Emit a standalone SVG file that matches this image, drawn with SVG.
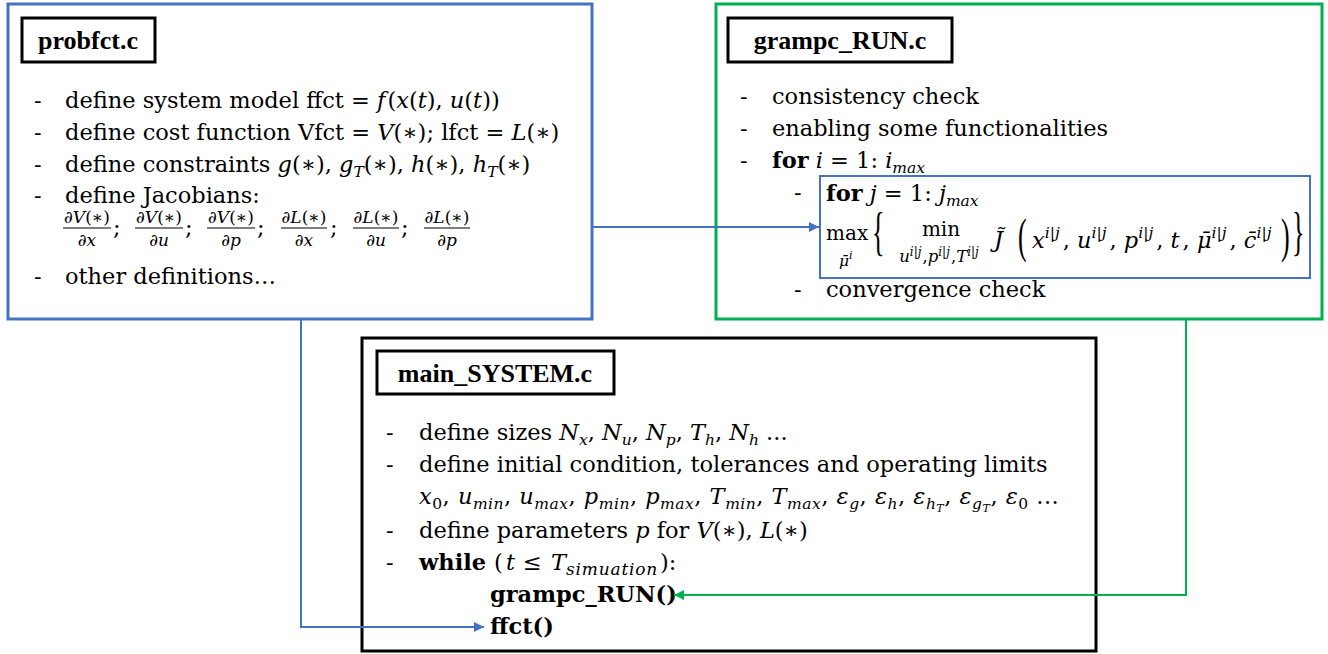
<svg xmlns="http://www.w3.org/2000/svg" width="1328" height="654" viewBox="0 0 1328 654">
  <style>
    text { font-family: "DejaVu Serif", "Liberation Serif", serif; font-size: 22.5px; fill: #000; }
    .m { font-style: italic; }
    .b { font-weight: bold; }
    .s { font-size: 15.5px; }
    .ss { font-size: 11px; }
    .fr { font-size: 17px; }
    .op { font-size: 20px; }
    .lim { font-size: 16.5px; }
    .lims { font-size: 12px; }
    .delim { font-family: "Liberation Serif", serif; font-size: 26px; font-weight: normal; }
    text.title { font-family: "Liberation Serif", "DejaVu Serif", serif; font-size: 26px; font-weight: bold; text-anchor: middle; }
    .box { fill: #fff; stroke-width: 3; }
    .tbox { fill: #fff; stroke: #000; stroke-width: 3; }
    .blue { stroke: #4472C4; }
    .green { stroke: #00B050; }
    .black { stroke: #000; }
    .conn { fill: none; stroke-width: 2; }
    .bar { stroke: #000; stroke-width: 1.2; }
  </style>
  <defs>
    <marker id="arrBlue" viewBox="0 0 10 10" refX="10" refY="5" markerWidth="10" markerHeight="10" markerUnits="userSpaceOnUse" orient="auto">
      <path d="M0,0 L10,5 L0,10 z" fill="#4472C4"/>
    </marker>
    <marker id="arrGreen" viewBox="0 0 10 10" refX="10" refY="5" markerWidth="10" markerHeight="10" markerUnits="userSpaceOnUse" orient="auto">
      <path d="M0,0 L10,5 L0,10 z" fill="#00B050"/>
    </marker>
  </defs>
  <rect width="1328" height="654" fill="#fff"/>

  <!-- problem function file -->
  <g id="probfct">
    <rect class="box blue" x="8" y="4" width="584" height="315"/>
    <rect class="tbox" x="22" y="18" width="133" height="44"/>
    <text class="title" x="88" y="49">probfct.c</text>
    <text x="34" y="108">-</text>
    <text x="65" y="108">define system model ffct = <tspan class="m">f</tspan><tspan dx="2">(</tspan><tspan class="m">x</tspan>(<tspan class="m">t</tspan>), <tspan class="m">u</tspan>(<tspan class="m">t</tspan>))</text>
    <text x="34" y="140">-</text>
    <text x="65" y="140">define cost function Vfct = <tspan class="m">V</tspan>(∗); lfct = <tspan class="m">L</tspan>(∗)</text>
    <text x="34" y="172">-</text>
    <text x="65" y="172">define constraints <tspan class="m">g</tspan>(∗), <tspan class="m">g</tspan><tspan class="s m" dy="5">T</tspan><tspan dy="-5">(∗), </tspan><tspan class="m">h</tspan>(∗), <tspan class="m">h</tspan><tspan class="s m" dy="5">T</tspan><tspan dy="-5">(∗)</tspan></text>
    <text x="34" y="203">-</text>
    <text x="65" y="203">define Jacobians:</text>
    <text x="34" y="284">-</text>
    <text x="65" y="284">other definitions…</text>
    <!-- partial derivatives of the cost terms -->
    <g text-anchor="middle">
      <text class="fr" x="87" y="223">∂<tspan class="m">V</tspan>(∗)</text>
      <text class="fr" x="87" y="246">∂<tspan class="m">x</tspan></text>
      <text class="fr" x="159" y="223">∂<tspan class="m">V</tspan>(∗)</text>
      <text class="fr" x="159" y="246">∂<tspan class="m">u</tspan></text>
      <text class="fr" x="231" y="223">∂<tspan class="m">V</tspan>(∗)</text>
      <text class="fr" x="231" y="246">∂<tspan class="m">p</tspan></text>
      <text class="fr" x="304" y="223">∂<tspan class="m">L</tspan>(∗)</text>
      <text class="fr" x="304" y="246">∂<tspan class="m">x</tspan></text>
      <text class="fr" x="376" y="223">∂<tspan class="m">L</tspan>(∗)</text>
      <text class="fr" x="376" y="246">∂<tspan class="m">u</tspan></text>
      <text class="fr" x="447" y="223">∂<tspan class="m">L</tspan>(∗)</text>
      <text class="fr" x="447" y="246">∂<tspan class="m">p</tspan></text>
    </g>
    <g class="bar">
      <line x1="63" y1="228" x2="111" y2="228"/>
      <line x1="135" y1="228" x2="183" y2="228"/>
      <line x1="207" y1="228" x2="255" y2="228"/>
      <line x1="281" y1="228" x2="327" y2="228"/>
      <line x1="353" y1="228" x2="399" y2="228"/>
      <line x1="424" y1="228" x2="470" y2="228"/>
    </g>
    <text x="113" y="235">;</text>
    <text x="185" y="235">;</text>
    <text x="257" y="235">;</text>
    <text x="330" y="235">;</text>
    <text x="401" y="235">;</text>
  </g>

  <!-- solver run file -->
  <g id="grampc_run">
    <rect class="box green" x="716" y="4" width="606" height="315"/>
    <rect class="tbox" x="728" y="18" width="224" height="44"/>
    <text class="title" x="840" y="49">grampc_RUN.c</text>
    <text x="740" y="104">-</text>
    <text x="772" y="104">consistency check</text>
    <text x="740" y="136">-</text>
    <text x="772" y="136">enabling some functionalities</text>
    <text x="740" y="168">-</text>
    <text x="772" y="168"><tspan class="b">for</tspan> <tspan class="m">i</tspan> = 1: <tspan class="m">i</tspan><tspan class="s m" dy="5">max</tspan></text>
    <text x="794" y="200">-</text>
    <text x="794" y="297">-</text>
    <text x="826" y="297">convergence check</text>
  </g>

  <!-- inner augmented Lagrangian loop -->
  <g id="inner_loop">
    <rect x="820" y="176" width="490" height="102" fill="#fff" stroke="#4472C4" stroke-width="2"/>
    <text x="826" y="201"><tspan class="b">for</tspan> <tspan class="m">j</tspan> = 1: <tspan class="m">j</tspan><tspan class="s m" dy="5">max</tspan></text>
    <text class="op" x="826" y="240">max</text>
    <text class="s m" x="839" y="266">μ̄<tspan class="ss" dy="-7">i</tspan></text>
    <text class="delim" transform="translate(872,249) scale(1,2)">{</text>
    <text class="op" x="941" y="236" text-anchor="middle">min</text>
    <text class="lim m" x="939" y="262" text-anchor="middle">u<tspan class="lims" dy="-6">i|j</tspan><tspan dy="6" dx="1" font-style="normal">,</tspan>p<tspan class="lims" dy="-6">i|j</tspan><tspan dy="6" dx="1" font-style="normal">,</tspan>T<tspan class="lims" dy="-6">i|j</tspan></text>
    <text class="m" x="994" y="247">J̃</text>
    <text class="delim" transform="translate(1018,252) scale(1,1.9)">(</text>
    <text x="1032" y="248"><tspan class="m">x</tspan><tspan class="s m" dy="-10">i|j</tspan><tspan dy="10" dx="3">, </tspan><tspan class="m">u</tspan><tspan class="s m" dy="-10">i|j</tspan><tspan dy="10" dx="3">, </tspan><tspan class="m">p</tspan><tspan class="s m" dy="-10">i|j</tspan><tspan dy="10" dx="3">, </tspan><tspan class="m">t</tspan><tspan dx="3">, </tspan><tspan class="m">μ̄</tspan><tspan class="s m" dy="-10">i|j</tspan><tspan dy="10" dx="3">, </tspan><tspan class="m">c̄</tspan><tspan class="s m" dy="-10">i|j</tspan></text>
    <text class="delim" transform="translate(1281,252) scale(1,1.9)">)</text>
    <text class="delim" transform="translate(1292,249) scale(1,2)">}</text>
  </g>

  <!-- main program -->
  <g id="main_system">
    <rect class="box black" x="362" y="338" width="734" height="313"/>
    <rect class="tbox" x="377" y="351" width="237" height="43"/>
    <text class="title" x="495" y="382">main_SYSTEM.c</text>
    <text x="386" y="440">-</text>
    <text x="419" y="440">define sizes <tspan class="m">N</tspan><tspan class="s m" dy="5">x</tspan><tspan dy="-5">, </tspan><tspan class="m">N</tspan><tspan class="s m" dy="5">u</tspan><tspan dy="-5">, </tspan><tspan class="m">N</tspan><tspan class="s m" dy="5">p</tspan><tspan dy="-5">, </tspan><tspan class="m">T</tspan><tspan class="s m" dy="5">h</tspan><tspan dy="-5">, </tspan><tspan class="m">N</tspan><tspan class="s m" dy="5">h</tspan><tspan dy="-5"> ...</tspan></text>
    <text x="386" y="472">-</text>
    <text x="419" y="472">define initial condition, tolerances and operating limits</text>
    <text x="419" y="504" style="letter-spacing:0.5px"><tspan class="m">x</tspan><tspan class="s" dy="5">0</tspan><tspan dy="-5">, </tspan><tspan class="m">u</tspan><tspan class="s m" dy="5">min</tspan><tspan dy="-5">, </tspan><tspan class="m">u</tspan><tspan class="s m" dy="5">max</tspan><tspan dy="-5">, </tspan><tspan class="m">p</tspan><tspan class="s m" dy="5">min</tspan><tspan dy="-5">, </tspan><tspan class="m">p</tspan><tspan class="s m" dy="5">max</tspan><tspan dy="-5">, </tspan><tspan class="m">T</tspan><tspan class="s m" dy="5">min</tspan><tspan dy="-5">, </tspan><tspan class="m">T</tspan><tspan class="s m" dy="5">max</tspan><tspan dy="-5">, </tspan><tspan class="m">ε</tspan><tspan class="s m" dy="5">g</tspan><tspan dy="-5">, </tspan><tspan class="m">ε</tspan><tspan class="s m" dy="5">h</tspan><tspan dy="-5">, </tspan><tspan class="m">ε</tspan><tspan class="s m" dy="5">h</tspan><tspan class="ss m" dy="3">T</tspan><tspan dy="-8">, </tspan><tspan class="m">ε</tspan><tspan class="s m" dy="5">g</tspan><tspan class="ss m" dy="3">T</tspan><tspan dy="-8">, </tspan><tspan class="m">ε</tspan><tspan class="s" dy="5">0</tspan><tspan dy="-5"> ...</tspan></text>
    <text x="386" y="538">-</text>
    <text x="419" y="538">define parameters <tspan class="m">p</tspan> for <tspan class="m">V</tspan>(∗), <tspan class="m">L</tspan>(∗)</text>
    <text x="386" y="570">-</text>
    <text x="419" y="570"><tspan class="b">while</tspan><tspan x="494">(</tspan><tspan class="m" x="506">t</tspan><tspan x="523">≤</tspan><tspan class="m" x="551">T</tspan><tspan style="font-size:17px;letter-spacing:0.8px" class="m" dy="5">simuation</tspan><tspan dy="-5" dx="2">):</tspan></text>
    <text x="490" y="602" class="b">grampc_RUN()</text>
    <text x="490" y="634" class="b">ffct()</text>
  </g>

  <!-- call relations -->
  <g id="connectors" class="conn">
    <path class="blue" d="M592,227 H819" marker-end="url(#arrBlue)"/>
    <path class="blue" d="M301,319 V627 H484" marker-end="url(#arrBlue)"/>
    <path class="green" d="M1186,319 V595 H674" marker-end="url(#arrGreen)"/>
  </g>
</svg>
